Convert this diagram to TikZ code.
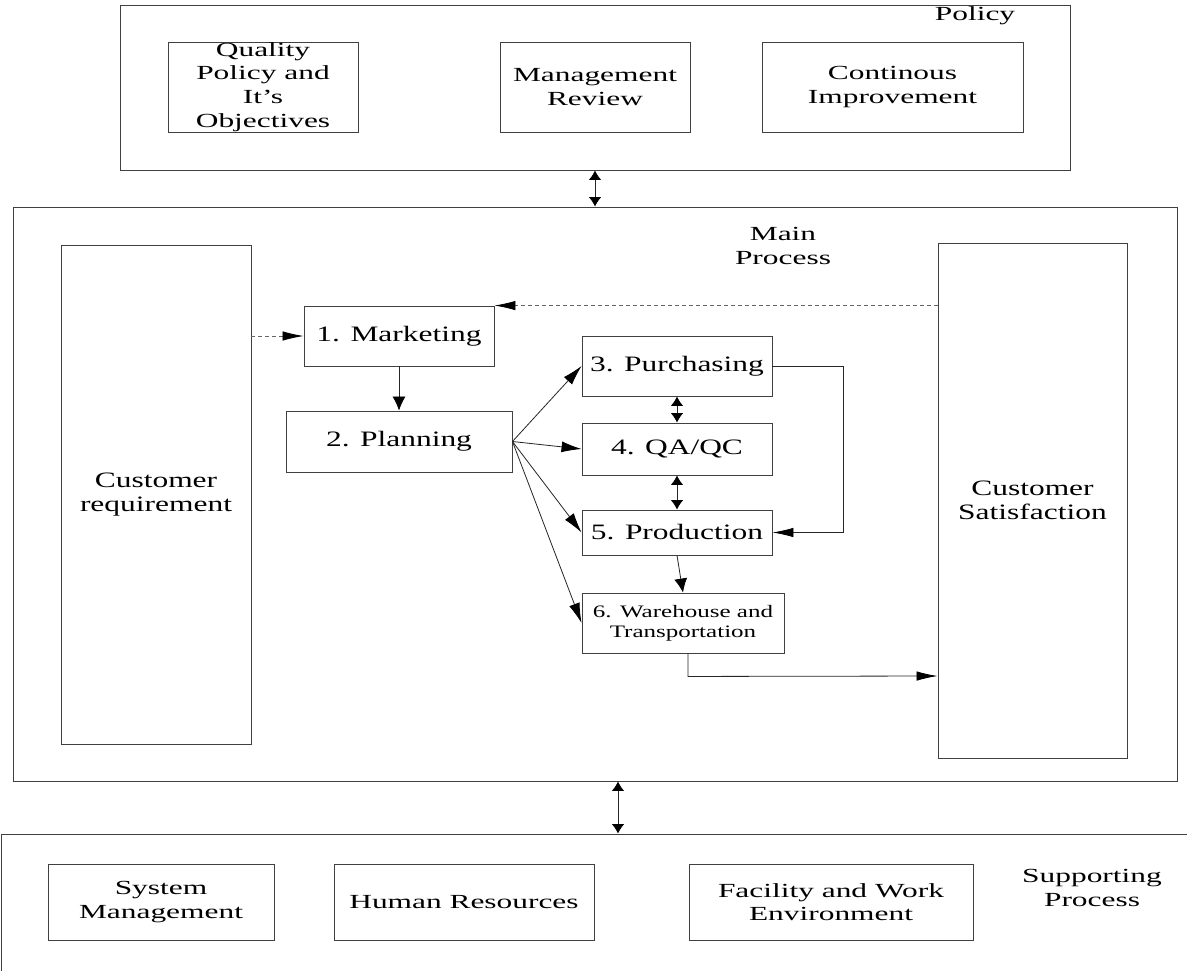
\documentclass[tikz,border=0pt]{standalone}
\usepackage{fontspec}
\setmainfont{Liberation Serif}[FakeStretch=1.43]
\newfontfamily\widefont{Liberation Serif}[FakeStretch=1.57]
\usetikzlibrary{arrows.meta,calc}
\tikzset{
  HT/.tip={Latex[length=21pt,width=9.5pt,color=black]},
  VT/.tip={Latex[length=14pt,width=13pt,color=black]},
  DT/.tip={Latex[length=9.5pt,width=12.5pt,color=black]},
  GT/.tip={Latex[length=20pt,width=11pt,color=black]},
}
\begin{document}
\begin{tikzpicture}[x=1pt,y=-1pt,
  box/.style={draw=black!75, line width=0.9pt, inner sep=0pt, align=center},
  pbox/.style={box, font=\widefont\fontsize{20}{23.7}\selectfont},
  mbox/.style={box, font=\fontsize{22}{24}\selectfont},
  lbl/.style={inner sep=0pt, align=center, font=\widefont\fontsize{20}{24}\selectfont},
  conn/.style={line width=0.8pt, draw=black!85},
  dsh/.style={line width=0.8pt, draw=black!60, dash pattern=on 4pt off 3pt},
]
\useasboundingbox (0,0) rectangle (1187,970);
\fill[white] (0,0) rectangle (1187,970);

% outer boxes
\node[box, minimum width=950pt, minimum height=165pt] (pol) at (595,87.5) {};
\node[box, minimum width=1164pt, minimum height=574pt] (main) at (595,494) {};
\node[box, minimum width=1234pt, minimum height=170pt] (sup) at (618,919) {};

% policy
\node[lbl] (polt) at (975,16) {Policy};
\node[pbox, minimum width=190pt, minimum height=90pt] (qp) at (263,87) {Quality\\Policy and\\It’s\\Objectives};
\node[pbox, minimum width=190pt, minimum height=90pt] (mr) at (595,87) {Management\\Review};
\node[pbox, minimum width=261pt, minimum height=90pt] (ci) at (892.5,87) {Continous\\Improvement};

% main process
\node[lbl] (mpt) at (783,246) {Main\\Process};
\node[mbox, minimum width=190pt, minimum height=499pt] (cr) at (156,494.5) {Customer\\requirement};
\node[mbox, minimum width=189pt, minimum height=515pt] (sat) at (1032.5,500.5) {Customer\\Satisfaction};
\node[mbox, minimum width=190pt, minimum height=60pt] (mkt) at (399,336) {1. Marketing};
\node[mbox, minimum width=226pt, minimum height=61pt] (pln) at (399,441.5) {2. Planning};
\node[mbox, minimum width=190pt, minimum height=60pt] (pur) at (677,366) {3. Purchasing};
\node[mbox, minimum width=190pt, minimum height=52pt] (qa) at (677,449) {4. QA/QC};
\node[mbox, minimum width=190pt, minimum height=45pt] (prod) at (677,532.5) {5. Production};
\node[box, font=\fontsize{17.5}{20}\selectfont, minimum width=202pt, minimum height=60pt] (wh) at (683,623) {6. Warehouse and\\Transportation};

% supporting process
\node[lbl] (spt) at (1092,888) {Supporting\\Process};
\node[pbox, minimum width=226pt, minimum height=76pt] (sm) at (161,902) {System\\Management};
\node[pbox, minimum width=260pt, minimum height=76pt] (hr) at (464,902) {Human Resources};
\node[pbox, minimum width=284pt, minimum height=76pt] (fw) at (831,902) {Facility and Work\\Environment};

% connectors
\draw[conn, DT-DT] (pol.south) -- (main.north);
\draw[conn, DT-DT] (main.south -| sup.north) -- (sup.north);
\draw[dsh, -HT] (cr.east |- mkt.west) -- (mkt.west);
\draw[dsh, -HT] (sat.west |- mkt.north east) -- (mkt.north east);
\draw[conn, -VT] (mkt.south) -- (pln.north);
\draw[conn, -GT] (pln.east) -- (pur.west);
\draw[conn, -GT] (pln.east) -- (qa.west);
\draw[conn, -GT] (pln.east) -- (prod.west);
\draw[conn, -GT] (pln.east) -- (wh.west);
\draw[conn, DT-DT] (pur.south) -- (qa.north);
\draw[conn, DT-DT] (qa.south) -- (prod.north);
\draw[conn, -HT] (pur.east) -- ++(71,0) |- (prod.east);
\draw[conn, -VT] (prod.south) -- (wh.north);
\draw[conn, -HT] ([xshift=5pt]wh.south) -- ++(0,23) -- (sat.west |- 0,676);
\end{tikzpicture}
\end{document}
